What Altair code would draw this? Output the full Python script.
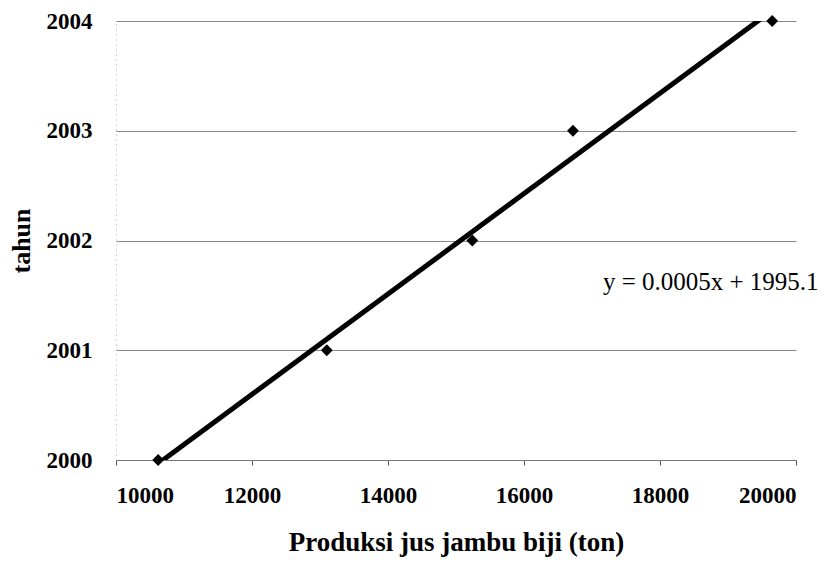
import altair as alt
import pandas as pd

# data
produksi = [10620, 13100, 15240, 16720, 19650]
tahun = [2000, 2001, 2002, 2003, 2004]
x_ticks = [10000, 12000, 14000, 16000, 18000, 20000]
y_ticks = [2000, 2001, 2002, 2003, 2004]
eq_text = ["y = 0.0005x + 1995.1"]
eq_x = [17160]
eq_y = [2001.62]

df = pd.DataFrame({"produksi": produksi, "tahun": tahun})
eq = pd.DataFrame({"produksi": eq_x, "tahun": eq_y, "t": eq_text})

xs = alt.Scale(domain=[10000, 20000], nice=False, zero=False)
ys = alt.Scale(domain=[2000, 2004], nice=False, zero=False)

xenc = alt.X("produksi:Q", scale=xs,
             axis=alt.Axis(values=x_ticks, format="d", grid=False,
                           title="Produksi jus jambu biji (ton)",
                           domainColor="#777777", tickColor="#555555", tickSize=5,
                           labelPadding=19, titlePadding=22, titleFontSize=27))
yenc = alt.Y("tahun:Q", scale=ys,
             axis=alt.Axis(values=y_ticks, format="d", grid=True,
                           gridColor="#8a8a8a", gridWidth=1,
                           domainColor="#aaaaaa", domainDash=[1, 4],
                           ticks=False, labelPadding=24, title="tahun",
                           titlePadding=12, titleFontSize=26))

points = alt.Chart(df).mark_point(shape="diamond", filled=True, color="black",
                                  size=140, opacity=1).encode(x=xenc, y=yenc)

trend = alt.Chart(df).transform_regression("produksi", "tahun").mark_line(
    color="black", strokeWidth=5, clip=True).encode(x=xenc, y=yenc)

label = alt.Chart(eq).mark_text(align="left", baseline="middle",
                                font="Liberation Serif", fontSize=25,
                                color="black").encode(x=xenc, y=yenc, text="t:N")

chart = alt.layer(trend, points, label).properties(
    width=680, height=439,
    autosize=alt.AutoSizeParams(type="none"),
    padding={"left": 108, "top": 13, "right": 30, "bottom": 100},
    background="white",
).configure_view(stroke=None).configure_axis(
    labelFont="Liberation Serif", labelFontWeight="bold", labelFontSize=23,
    labelColor="black", titleFont="Liberation Serif", titleFontWeight="bold",
    titleColor="black",
)

chart.save("out.html", embed_options={"renderer": "svg", "actions": False})
